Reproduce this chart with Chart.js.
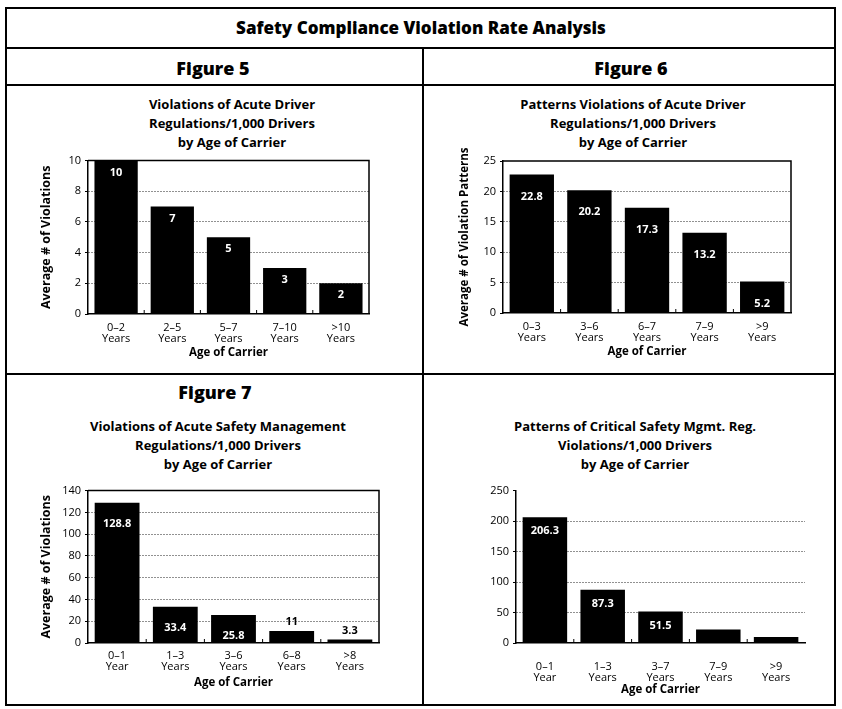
<!DOCTYPE html>
<html>
<head>
<meta charset="utf-8">
<script src="https://cdn.jsdelivr.net/npm/chart.js@4.4.0/dist/chart.umd.min.js"></script>
<style>
	body{margin:0;background:#fff;width:842px;height:709px;position:relative;overflow:hidden;font-family:"Open Sans",sans-serif;color:#000;}
	.line{position:absolute;background:#000;}
	.txt{position:absolute;text-align:center;white-space:nowrap;transform:translateX(-50%);}
	.main{font-weight:800;font-size:17px;}
	.fig{font-weight:800;font-size:18px;}
	.ttl{font-weight:700;font-size:13px;line-height:19px;}
	.box{position:absolute;}
</style>
</head>
<body>
<div class="line" style="left:5px;top:7px;width:831px;height:2px"></div>
<div class="line" style="left:5px;top:704px;width:831px;height:2px"></div>
<div class="line" style="left:5px;top:7px;width:2px;height:699px"></div>
<div class="line" style="left:834px;top:7px;width:2px;height:699px"></div>
<div class="line" style="left:5px;top:47px;width:831px;height:2px"></div>
<div class="line" style="left:5px;top:84px;width:831px;height:2px"></div>
<div class="line" style="left:422px;top:47px;width:2px;height:659px"></div>
<div class="line" style="left:5px;top:373px;width:831px;height:2px"></div>

<div class="txt main" style="left:421px;top:16px">Safety Compliance Violation Rate Analysis</div>
<div class="txt fig" style="left:213px;top:56px">Figure 5</div>
<div class="txt fig" style="left:631px;top:56px">Figure 6</div>
<div class="txt fig" style="left:215px;top:380px">Figure 7</div>

<div class="txt ttl" style="left:232px;top:95px">Violations of Acute Driver<br>Regulations/1,000 Drivers<br>by Age of Carrier</div>
<div class="txt ttl" style="left:633px;top:95px">Patterns Violations of Acute Driver<br>Regulations/1,000 Drivers<br>by Age of Carrier</div>
<div class="txt ttl" style="left:218px;top:417px">Violations of Acute Safety Management<br>Regulations/1,000 Drivers<br>by Age of Carrier</div>
<div class="txt ttl" style="left:635px;top:417px">Patterns of Critical Safety Mgmt. Reg.<br>Violations/1,000 Drivers<br>by Age of Carrier</div>

<div class="box" style="left:39px;top:150px;width:371px;height:210px"><canvas id="c5"></canvas></div>
<div class="box" style="left:458px;top:148px;width:372px;height:211px"><canvas id="c6"></canvas></div>
<div class="box" style="left:39px;top:480px;width:376px;height:210px"><canvas id="c7"></canvas></div>
<div class="box" style="left:430px;top:480px;width:400px;height:217px"><canvas id="c8"></canvas></div>

<script>
// figure 5
var fig5Cats = [['0–2', 'Years'], ['2–5', 'Years'], ['5–7', 'Years'], ['7–10', 'Years'], ['>10', 'Years']];
var fig5Vals = [10, 7, 5, 3, 2];
var fig5Ticks = [0, 2, 4, 6, 8, 10];

// figure 6
var fig6Cats = [['0–3', 'Years'], ['3–6', 'Years'], ['6–7', 'Years'], ['7–9', 'Years'], ['>9', 'Years']];
var fig6Vals = [22.8, 20.2, 17.3, 13.2, 5.2];
var fig6Ticks = [0, 5, 10, 15, 20, 25];

// figure 7
var fig7Cats = [['0–1', 'Year'], ['1–3', 'Years'], ['3–6', 'Years'], ['6–8', 'Years'], ['>8', 'Years']];
var fig7Vals = [128.8, 33.4, 25.8, 11, 3.3];
var fig7Ticks = [0, 20, 40, 60, 80, 100, 120, 140];

// critical safety mgmt (last two bars unlabeled)
var fig8Cats = [['0–1', 'Year'], ['1–3', 'Years'], ['3–7', 'Years'], ['7–9', 'Years'], ['>9', 'Years']];
var fig8Vals = [206.3, 87.3, 51.5, 22, 10];
var fig8Ticks = [0, 50, 100, 150, 200, 250];

var FONT = '"Open Sans", sans-serif';

// value labels on the bars
var valueLabels = {
	id: 'valueLabels',
	afterDatasetsDraw: function(chart, args, opts) {
		var ctx = chart.ctx;
		var meta = chart.getDatasetMeta(0);
		var data = chart.data.datasets[0].data;
		ctx.save();
		ctx.font = 'bold 11px ' + FONT;
		ctx.textAlign = 'center';
		ctx.textBaseline = 'middle';
		for (var i = 0; i < meta.data.length; i++) {
			var v = data[i];
			if (v < opts.hideBelow) continue;
			var bar = meta.data[i];
			if (v >= opts.insideMin) {
				ctx.fillStyle = '#fff';
				ctx.fillText(String(v), bar.x, bar.y + opts.inset);
			} else {
				ctx.fillStyle = '#000';
				ctx.fillText(String(v), bar.x, bar.y - 9);
			}
		}
		ctx.restore();
	}
};

// plot frame + little category ticks on the base line
var plotFrame = {
	id: 'plotFrame',
	afterDraw: function(chart, args, opts) {
		var ctx = chart.ctx;
		var a = chart.chartArea;
		ctx.save();
		ctx.strokeStyle = '#000';
		ctx.lineWidth = 1.5;
		if (opts.box) {
			ctx.beginPath();
			ctx.moveTo(a.left, a.top);
			ctx.lineTo(a.right, a.top);
			ctx.lineTo(a.right, a.bottom);
			ctx.stroke();
		}
		var x = chart.scales.x;
		var step = (a.right - a.left) / x.ticks.length;
		ctx.lineWidth = 1;
		for (var i = 1; i < x.ticks.length; i++) {
			var px = a.left + step * i;
			ctx.beginPath();
			ctx.moveTo(px, a.bottom);
			ctx.lineTo(px, a.bottom - 4);
			ctx.stroke();
		}
		ctx.restore();
	}
};

function makeChart(id, cats, vals, ticks, o) {
	var max = ticks[ticks.length - 1];
	var step = ticks[1] - ticks[0];
	return new Chart(document.getElementById(id), {
		type: 'bar',
		data: {
			labels: cats,
			datasets: [{
				data: vals,
				backgroundColor: '#000',
				borderWidth: 0,
				barPercentage: 0.77,
				categoryPercentage: 1
			}]
		},
		options: {
			responsive: true,
			maintainAspectRatio: false,
			animation: false,
			layout: {padding: {top: o.top, right: o.right, left: 0, bottom: 0}},
			plugins: {
				legend: {display: false},
				tooltip: {enabled: false},
				valueLabels: {insideMin: o.insideMin, hideBelow: o.hideBelow, inset: o.inset},
				plotFrame: {box: o.box}
			},
			scales: {
				x: {
					grid: {display: false},
					border: {display: true, color: '#000', width: 1.5},
					ticks: {color: '#000', padding: o.xPad, font: {family: FONT, size: 11, lineHeight: 0.95}, maxRotation: 0, autoSkip: false},
					title: {display: true, text: 'Age of Carrier', color: '#000', font: {family: FONT, size: 11.5, weight: 'bold'}, padding: {top: 2, bottom: 0}},
					afterFit: function(s) { s.height = o.xH; }
				},
				y: {
					min: 0,
					max: max,
					border: {display: true, color: '#000', width: 1.5, dash: [1, 2]},
					grid: {
						color: function(c) { return (c.tick.value === 0 || c.tick.value === max) ? 'rgba(0,0,0,0)' : '#222'; },
						tickColor: '#000',
						tickLength: 3,
						lineWidth: 1
					},
					ticks: {stepSize: step, color: '#000', padding: 4, font: {family: FONT, size: 11}},
					title: {display: !!o.yTitle, text: o.yTitle || '', color: '#000', font: {family: FONT, size: o.yTitleSize || 12.5, weight: 'bold'}, padding: 0},
					afterFit: function(s) { s.width = o.yW; }
				}
			}
		},
		plugins: [valueLabels, plotFrame]
	});
}

makeChart('c5', fig5Cats, fig5Vals, fig5Ticks, {top: 10, right: 41, yW: 49, xH: 46, xPad: 1, box: true, insideMin: 0, hideBelow: 0, inset: 12, yTitle: 'Average # of Violations'});
makeChart('c6', fig6Cats, fig6Vals, fig6Ticks, {top: 13, right: 39, yW: 45, xH: 46, xPad: 1, box: true, insideMin: 0, hideBelow: 0, inset: 22, yTitle: 'Average # of Violation Patterns', yTitleSize: 11.5});
makeChart('c7', fig7Cats, fig7Vals, fig7Ticks, {top: 9, right: 36, yW: 49, xH: 47, xPad: 0, box: true, insideMin: 20, hideBelow: 0, inset: 21, yTitle: 'Average # of Violations'});
makeChart('c8', fig8Cats, fig8Vals, fig8Ticks, {top: 10, right: 25, yW: 86, xH: 54, xPad: 11, box: false, insideMin: 0, hideBelow: 40, inset: 14, yTitle: ''});
</script>
</body>
</html>
